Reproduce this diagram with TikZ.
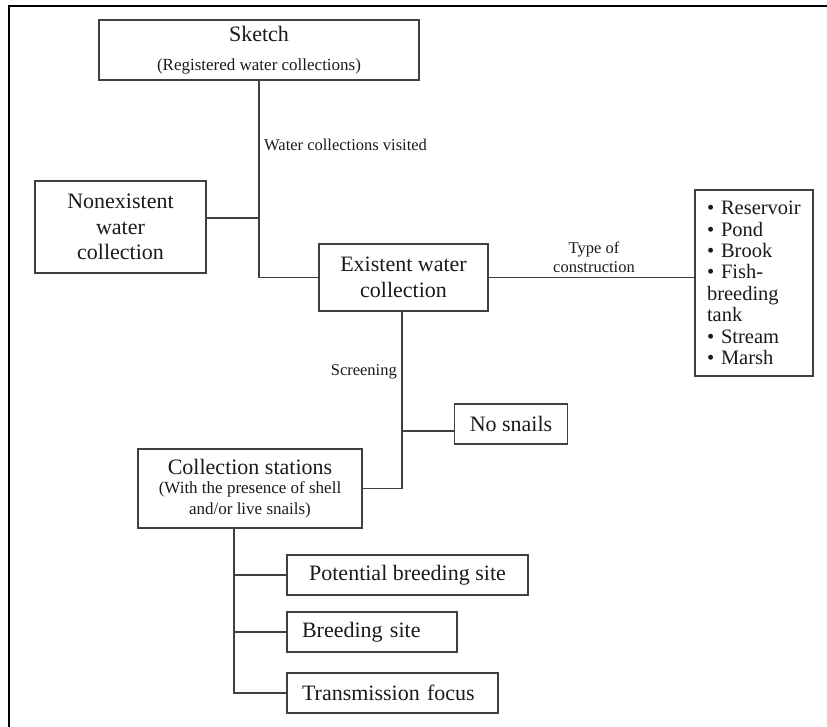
\documentclass[tikz,border=0pt]{standalone}
\usepackage{fontspec}
\setmainfont{Liberation Serif}
\usetikzlibrary{positioning}
\definecolor{linegray}{HTML}{404040}
\definecolor{textgray}{HTML}{1A1A1A}

\tikzset{BoxStyle/.style = 
	{shape = rectangle,
		draw = linegray,
		line width = 1.6pt,
		inner sep = 0pt,
		align = center,
		text = textgray,
		font = \fontsize{22}{25.5}\selectfont},
	EdgeStyle/.style = {draw = linegray, line width = 1.7pt},
	LabelStyle/.style = 
	{inner sep = 0pt,
		text = textgray,
		font = \fontsize{16.5}{19}\selectfont}}

\newcommand{\SubLine}[1]{{\fontsize{17}{20.5}\selectfont #1}}

\begin{document}
\begin{tikzpicture}[x=1pt, y=-1pt]
\useasboundingbox (0,0) rectangle (827,727);
% frame
\draw[line width = 1.4pt] (9,727) -- (9,6) -- (827,6);

\node[BoxStyle, minimum width = 320pt, minimum height = 60pt] (Sketch) at (259,50)
	{Sketch\\[3pt]\SubLine{(Registered water collections)}};
\node[BoxStyle, minimum width = 171pt, minimum height = 92pt] (Nonexist) at (120.5,227)
	{Nonexistent\\water\\collection};
\node[BoxStyle, minimum width = 169pt, minimum height = 67pt] (Exist) at (403.5,277.5)
	{Existent water\\collection};
\node[BoxStyle, minimum width = 118pt, minimum height = 186pt, text width = 94pt,
	align = left, font = \fontsize{20.5}{21.4}\selectfont] (Types) at (754,283)
	{• Reservoir\\• Pond\\• Brook\\• Fish-\\breeding\\tank\\• Stream\\• Marsh};
\node[BoxStyle, minimum width = 113pt, minimum height = 40pt] (NoSnails) at (511,424)
	{No snails};
\node[BoxStyle, minimum width = 224pt, minimum height = 79pt] (Stations) at (250,488.5)
	{Collection stations\\[-6pt]\SubLine{(With the presence of shell}\\[-5pt]\SubLine{and/or live snails)}};
\node[BoxStyle, minimum width = 241pt, minimum height = 40pt] (Potential) at (407.5,575)
	{Potential breeding site};
\node[BoxStyle, minimum width = 170pt, minimum height = 40pt, text width = 140pt,
	align = left] (Breeding) at (372,632) {Breeding site};
\node[BoxStyle, minimum width = 211pt, minimum height = 40pt, text width = 181pt,
	align = left] (Transmission) at (392.5,693) {Transmission focus};

% labels
\node[LabelStyle, anchor = west] (Visited) at (264,145) {Water collections visited};
\node[LabelStyle, align = center] (Construction) at (594,257.5) {Type of\\construction};
\node[LabelStyle, anchor = east] (Screening) at (397,372) {Screening};

% connectors
\coordinate (SplitA) at (259,218);
\coordinate (SplitB) at (402,431);
\coordinate (TrunkC) at (234,528);
\draw[EdgeStyle] (Sketch.south) -- (Sketch.south |- Exist.west) -- (Exist.west);
\draw[EdgeStyle] (Nonexist.east |- SplitA) -- (SplitA);
\draw[EdgeStyle] (Exist.east) -- (Exist.east -| Types.west);
\draw[EdgeStyle] (SplitB |- Exist.south) -- (SplitB |- Stations.east) -- (Stations.east);
\draw[EdgeStyle] (SplitB) -- (SplitB -| NoSnails.west);
\draw[EdgeStyle] (TrunkC) -- (TrunkC |- Transmission.west) -- (Transmission.west);
\draw[EdgeStyle] (TrunkC |- Potential.west) -- (Potential.west);
\draw[EdgeStyle] (TrunkC |- Breeding.west) -- (Breeding.west);
\end{tikzpicture}
\end{document}
